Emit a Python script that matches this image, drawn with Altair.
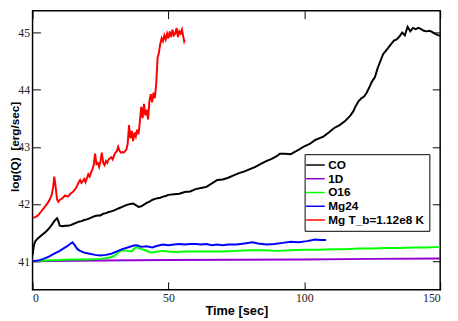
import altair as alt
import pandas as pd

SERIES = ["CO", "1D", "O16", "Mg24", "Mg T_b=1.12e8 K"]
COLORS = ["#000000", "#9400d3", "#00ff00", "#0000ff", "#ff0000"]

co_t = [0, 0.5, 1, 2, 3, 4, 5, 6, 7, 8, 9, 9.5, 10, 11, 12, 13, 14, 15, 16, 17, 18, 19, 20,
        21, 22, 23, 24, 25, 26, 27, 28, 29, 30, 31, 32, 33, 34, 35, 36, 37, 38, 39, 40, 41,
        42, 43, 44, 45, 46, 47, 48, 49, 50, 52, 54, 56, 58, 60, 62, 64, 66, 68, 70, 72, 74,
        76, 78, 80, 82, 84, 86, 88, 90, 91, 93, 95, 96, 98, 100, 102, 104, 105, 107, 109,
        111, 113, 115, 117, 118, 119, 120, 121, 122, 123, 124, 125, 126, 127, 128, 129, 130,
        131, 132, 133, 134, 135, 136, 137, 138, 139, 140, 141, 142, 143, 144, 145, 146, 147,
        148, 149, 150]
co_q = [41.10, 41.28, 41.35, 41.40, 41.44, 41.48, 41.52, 41.57, 41.63, 41.70, 41.75, 41.70,
        41.62, 41.61, 41.62, 41.62, 41.63, 41.65, 41.67, 41.69, 41.70, 41.72, 41.73, 41.75,
        41.77, 41.79, 41.80, 41.80, 41.83, 41.84, 41.86, 41.87, 41.89, 41.91, 41.93, 41.95,
        41.97, 41.99, 42.00, 42.01, 41.98, 41.95, 41.96, 41.99, 42.02, 42.04, 42.07, 42.09,
        42.10, 42.11, 42.13, 42.14, 42.16, 42.17, 42.18, 42.21, 42.22, 42.26, 42.28, 42.30,
        42.36, 42.42, 42.43, 42.46, 42.50, 42.54, 42.57, 42.61, 42.65, 42.70, 42.75, 42.79,
        42.84, 42.88, 42.88, 42.87, 42.90, 42.95, 43.01, 43.05, 43.12, 43.14, 43.18, 43.25,
        43.33, 43.38, 43.45, 43.55, 43.62, 43.72, 43.80, 43.85, 43.88, 43.95, 44.05, 44.15,
        44.22, 44.38, 44.50, 44.62, 44.68, 44.74, 44.80, 44.86, 44.88, 44.93, 45.00, 44.95,
        45.10, 45.02, 45.08, 45.06, 45.08, 45.06, 45.03, 45.02, 45.03, 45.01, 44.98, 44.96,
        44.94]

d1_t = [0, 25, 50, 75, 100, 125, 150]
d1_q = [41.00, 41.01, 41.02, 41.025, 41.03, 41.04, 41.045]

o16_t = [0, 5, 10, 15, 20, 25, 28, 30, 31, 32, 33, 35, 36.5, 37.5, 38.3, 39, 40, 41, 43, 44,
         46, 48, 50, 53, 56, 60, 65, 70, 75, 80, 85, 90, 95, 100, 105, 110, 115, 120, 125,
         130, 135, 140, 145, 150]
o16_q = [41.00, 41.01, 41.02, 41.03, 41.03, 41.04, 41.06, 41.09, 41.13, 41.17, 41.19, 41.18,
         41.17, 41.22, 41.25, 41.23, 41.21, 41.20, 41.16, 41.15, 41.17, 41.18, 41.17, 41.16,
         41.17, 41.17, 41.17, 41.17, 41.18, 41.19, 41.19, 41.18, 41.19, 41.20, 41.20, 41.21,
         41.21, 41.22, 41.22, 41.23, 41.23, 41.24, 41.24, 41.25]

mg_t = [0, 2, 4, 6, 8, 10, 12, 13, 14, 14.7, 15.5, 16.5, 17.5, 19, 21, 23, 25, 27, 29, 31,
        33, 35, 37, 38, 39, 40, 42, 44, 46, 48, 50, 52, 54, 56, 58, 60, 62, 64, 66, 68, 70,
        72, 75, 78, 81, 83, 86, 89, 92, 95, 98, 101, 104, 106, 108]
mg_q = [41.00, 41.01, 41.04, 41.08, 41.13, 41.18, 41.24, 41.27, 41.31, 41.33, 41.28, 41.21,
        41.18, 41.15, 41.13, 41.11, 41.10, 41.11, 41.13, 41.17, 41.21, 41.24, 41.27, 41.28,
        41.27, 41.25, 41.26, 41.24, 41.27, 41.29, 41.28, 41.29, 41.30, 41.29, 41.30, 41.30,
        41.29, 41.30, 41.28, 41.29, 41.28, 41.29, 41.29, 41.31, 41.33, 41.31, 41.29, 41.30,
        41.32, 41.34, 41.33, 41.35, 41.38, 41.37, 41.37]

mgt_t = [0, 1, 2, 3, 4, 5, 6, 7, 7.6, 8.0, 8.5, 9.0, 9.5, 10, 11, 12, 13, 14, 15, 16, 16.5,
         17, 17.5, 18, 18.5, 19, 19.5, 20, 20.5, 21, 21.5, 22, 22.5, 23, 23.5, 24, 24.5, 25,
         25.5, 26, 26.5, 27, 27.5, 28, 28.5, 29, 29.5, 30, 30.5, 31, 31.5, 32, 32.5, 33, 33.5,
         34, 34.5, 35, 35.5, 36, 36.5, 37, 37.5, 38, 38.5, 39, 39.5, 40, 40.5, 41, 41.5, 42,
         42.5, 43, 43.5, 44, 44.5, 45, 45.5, 46, 46.5, 47, 47.5, 48, 48.5, 49, 49.5, 50, 50.5,
         51, 51.5, 52, 52.5, 53, 53.5, 54, 54.5, 55, 55.5, 55.8, 56]
mgt_q = [41.76, 41.77, 41.80, 41.86, 41.92, 41.98, 42.05, 42.15, 42.30, 42.48, 42.30, 42.08,
         42.04, 42.07, 42.10, 42.15, 42.13, 42.18, 42.22, 42.28, 42.33, 42.38, 42.42, 42.37,
         42.40, 42.44, 42.38, 42.45, 42.52, 42.48, 42.55, 42.60, 42.68, 42.88, 42.70, 42.72,
         42.65, 42.75, 42.90, 42.72, 42.68, 42.75, 42.72, 42.78, 42.80, 42.82, 42.78, 42.85,
         42.90, 42.92, 43.00, 42.93, 42.90, 42.91, 42.90, 42.92, 42.95, 43.05, 43.38, 43.15,
         43.28, 43.10, 43.25, 43.18, 43.30, 43.22, 43.45, 43.70, 43.50, 43.75, 43.55, 43.65,
         43.48, 43.80, 43.92, 43.78, 43.95, 43.85, 44.10, 44.55, 44.65, 44.80, 44.90, 44.85,
         44.95, 44.88, 44.98, 44.90, 45.02, 44.92, 45.05, 44.95, 44.98, 45.08, 44.92, 45.02,
         44.98, 45.05, 44.92, 44.85, 44.88]

X_MAJOR = [0, 50, 100, 150]
Y_MAJOR = [41, 42, 43, 44, 45]

rows = []
for name, ts, qs in [(SERIES[0], co_t, co_q), (SERIES[1], d1_t, d1_q), (SERIES[2], o16_t, o16_q),
                     (SERIES[3], mg_t, mg_q), (SERIES[4], mgt_t, mgt_q)]:
    for t, q in zip(ts, qs):
        rows.append({"series": name, "t": t, "q": q})
df = pd.DataFrame(rows)

LEFT = 25
W, H = 415, 284
TICK = 8
xscale = alt.Scale(domain=[0, 150], nice=False, zero=False)
yscale = alt.Scale(domain=[40.5, 45.38], nice=False, zero=False)

# bottom / left axes: labels, with ticks turned inward by a negative offset
x_axis = alt.Axis(
    orient="bottom", offset=-TICK, values=X_MAJOR, format="d", title="Time [sec]",
    grid=False, domain=False, ticks=True, tickSize=TICK, tickColor="black", tickWidth=1,
    labelFont="Liberation Serif", labelFontSize=12, labelColor="#222",
    labelPadding=3, titleFont="Liberation Sans", titleFontWeight="bold",
    titleFontSize=13, titleColor="black", titlePadding=1)
y_axis = alt.Axis(
    orient="left", offset=-TICK, values=Y_MAJOR, format="d",
    title="log(Q)\u00a0\u00a0[erg/sec]",
    grid=False, domain=False, ticks=True, tickSize=TICK, tickColor="black", tickWidth=1,
    labelFont="Liberation Serif", labelFontSize=12, labelColor="#222",
    labelPadding=3, titleFont="Liberation Sans", titleFontWeight="bold",
    titleFontSize=12, titleColor="black", titleX=-18.5 - TICK, titleY=138,
    titleBaseline="middle", titleAlign="center")

# top / right axes: inward ticks only
top_axis = alt.Axis(
    orient="top", offset=-TICK, values=X_MAJOR, title=None, labels=False,
    grid=False, domain=False, ticks=True, tickSize=TICK, tickColor="black", tickWidth=1)
right_axis = alt.Axis(
    orient="right", offset=-TICK, values=Y_MAJOR, title=None, labels=False,
    grid=False, domain=False, ticks=True, tickSize=TICK, tickColor="black", tickWidth=1)

base = alt.Chart(df)

lines = base.mark_line(strokeWidth=2, clip=True).encode(
    x=alt.X("t:Q", scale=xscale, axis=x_axis),
    y=alt.Y("q:Q", scale=yscale, axis=y_axis),
    color=alt.Color("series:N", sort=SERIES,
                    scale=alt.Scale(domain=SERIES, range=COLORS),
                    legend=alt.Legend(
                        title=None, orient="none", legendX=277, legendY=146,
                        direction="vertical", symbolType="M-2,0H2", symbolSize=90,
                        symbolStrokeWidth=1.5, labelFont="Liberation Sans",
                        labelFontWeight="bold", labelFontSize=12, labelColor="black",
                        padding=5, rowPadding=2, strokeColor="black", fillColor="white",
                        labelOffset=7)),
)

ghost = base.transform_filter(alt.datum.series == "CO").mark_line(opacity=0).encode(
    x=alt.X("t:Q", scale=xscale, axis=top_axis),
    y=alt.Y("q:Q", scale=yscale, axis=right_axis),
)

chart = alt.layer(lines, ghost).resolve_axis(
    x="independent", y="independent"
).properties(
    width=W, height=H,
    autosize=alt.AutoSizeParams(type="none"),
    padding={"left": LEFT, "top": 0, "right": 10, "bottom": 30},
).configure_view(stroke="black", strokeWidth=1.5)

chart.save("out.html", embed_options={"renderer": "svg", "actions": False})
